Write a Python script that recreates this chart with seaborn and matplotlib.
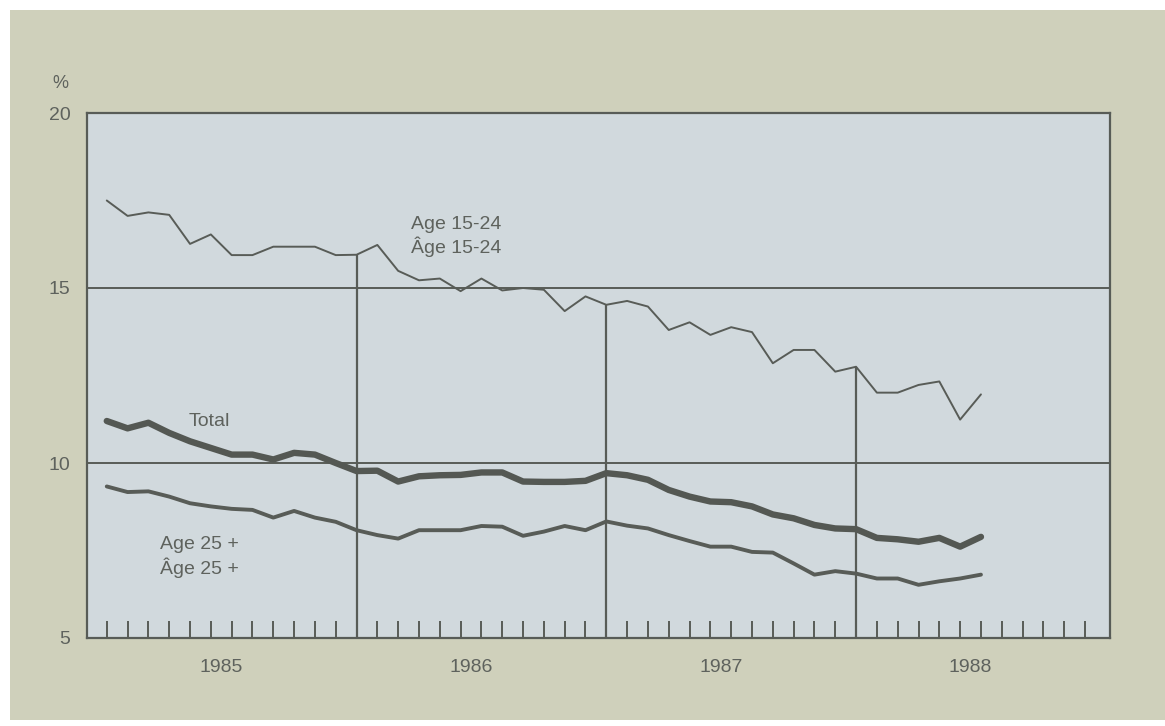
import numpy as np
import pandas as pd
import matplotlib
matplotlib.use("Agg")
import matplotlib.pyplot as plt
import seaborn as sns
from matplotlib.patches import Rectangle

# ---- data (monthly, Jan 1985 = index 0) ----
years = ["1985", "1986", "1987", "1988"]
age_15_24 = [17.50, 17.06, 17.16, 17.09, 16.26, 16.53, 15.94, 15.94, 16.18, 16.18,
             16.18, 15.94, 15.95, 16.23, 15.49, 15.22, 15.27, 14.91, 15.27, 14.93,
             15.00, 14.95, 14.34, 14.76, 14.52, 14.63, 14.47, 13.80, 14.02, 13.66,
             13.88, 13.74, 12.85, 13.23, 13.23, 12.61, 12.75, 12.01, 12.01, 12.23,
             12.33, 11.24, 11.96]
total = [11.20, 10.99, 11.15, 10.86, 10.62, 10.43, 10.24, 10.24, 10.10, 10.29,
         10.24, 10.00, 9.77, 9.78, 9.47, 9.62, 9.65, 9.66, 9.73, 9.73,
         9.47, 9.46, 9.46, 9.49, 9.71, 9.65, 9.52, 9.23, 9.04, 8.90,
         8.88, 8.76, 8.53, 8.42, 8.23, 8.13, 8.11, 7.86, 7.82, 7.75,
         7.86, 7.61, 7.89]
age_25_plus = [9.33, 9.17, 9.19, 9.04, 8.85, 8.76, 8.69, 8.66, 8.44, 8.63,
               8.44, 8.32, 8.08, 7.94, 7.84, 8.08, 8.08, 8.08, 8.20, 8.18,
               7.92, 8.04, 8.20, 8.08, 8.33, 8.21, 8.13, 7.94, 7.77, 7.61,
               7.61, 7.46, 7.44, 7.13, 6.81, 6.91, 6.84, 6.70, 6.70, 6.52,
               6.62, 6.70, 6.81]
y_ticks = [5, 10, 15, 20]

sns.set_style("white")
plt.rcParams['font.family'] = ['Liberation Sans', 'DejaVu Sans']

W, H = 1165, 726
outer_bg = '#cfd0bb'
plot_bg = '#d1d9dd'
ink = '#585c57'
txt = '#5e625d'

fig = plt.figure(figsize=(W / 100, H / 100), dpi=100, facecolor='white')
bgrect = Rectangle((10 / W, 6 / H), 1 - 10 / W, 1 - 16 / H,
                   transform=fig.transFigure, facecolor=outer_bg,
                   edgecolor='none', zorder=-10)
fig.patches.append(bgrect)

ax = fig.add_axes([87 / W, 1 - 638 / H, (1110 - 87) / W, (638 - 113) / H])
ax.set_zorder(5)
ax.set_facecolor(plot_bg)

n = len(total)
df = pd.DataFrame({"month": np.arange(n), "a1524": age_15_24,
                   "total": total, "a25": age_25_plus})

# grid lines
for yv in [10, 15]:
    ax.axhline(yv, color=ink, lw=1.4, zorder=1)
# year separators up to the Age 15-24 line
for m in [12, 24, 36]:
    ax.vlines(m, 5, age_15_24[m], color=ink, lw=1.6, zorder=1)

sns.lineplot(data=df, x="month", y="a1524", ax=ax, color=ink, lw=1.4, zorder=3)
sns.lineplot(data=df, x="month", y="total", ax=ax, color='#545853', lw=4.6, zorder=3)
sns.lineplot(data=df, x="month", y="a25", ax=ax, color=ink, lw=2.8, zorder=3)

ax.set_xlim(-0.95, 48.2)
ax.set_ylim(5, 20)
ax.set_xlabel("")
ax.set_ylabel("")

# month ticks inside
ax.set_xticks(np.arange(48))
ax.set_xticklabels([])
ax.tick_params(axis='x', which='major', direction='in', length=12, width=1.4,
               color=ink, bottom=True)
ax.set_xticks([5.5 + 12 * i for i in range(len(years))], minor=True)
ax.set_xticklabels(years, minor=True)
ax.tick_params(axis='x', which='minor', length=0, pad=15, labelsize=14,
               labelcolor=txt)

ax.set_yticks(y_ticks)
ax.set_yticklabels([str(v) for v in y_ticks])
ax.tick_params(axis='y', length=0, pad=12, labelsize=14, labelcolor=txt)

for s in ax.spines.values():
    s.set_color(ink)
    s.set_linewidth(1.6)
    s.set_visible(True)

fig.text(60 / W, 1 - 83 / H, "%", ha='center', va='center', fontsize=13, color=txt)

ax.text(14.6, 16.47, "Age 15-24\nÂge 15-24", ha='left', va='center', fontsize=14,
        color=txt, linespacing=1.25)
ax.text(3.95, 11.2, "Total", ha='left', va='center', fontsize=14, color=txt)
ax.text(2.55, 7.32, "Age 25 +\nÂge 25 +", ha='left', va='center', fontsize=14,
        color=txt, linespacing=1.25)

fig.savefig("out.png", dpi=100, facecolor=fig.get_facecolor())
